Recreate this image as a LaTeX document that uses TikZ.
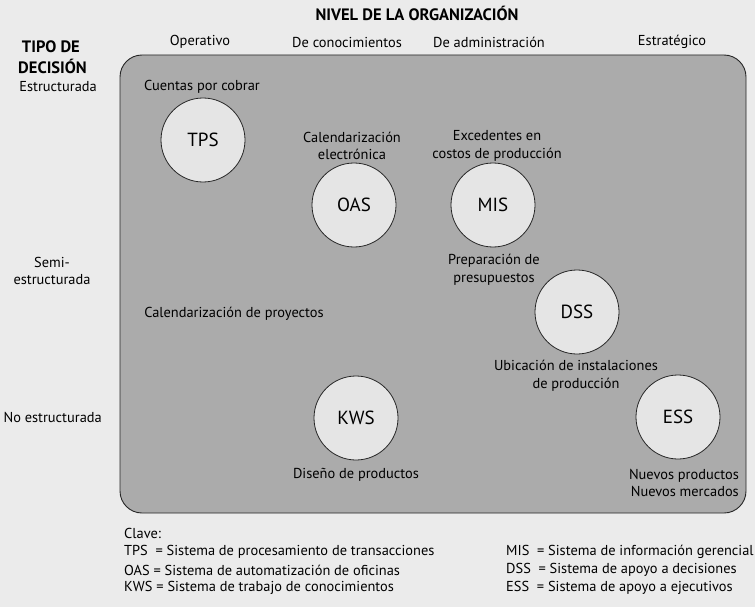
\documentclass[tikz,border=0pt]{standalone}
\usepackage{fontspec}
\setmainfont{PT Sans}
\tikzset{
  lbl/.style={font=\fontsize{14.4}{17.5}\selectfont, inner sep=0pt, align=center},
  hdr/.style={lbl, font=\fontsize{16.5}{18}\selectfont\bfseries},
  sys/.style={circle, draw=black!85, line width=0.8pt, fill=black!10,
    minimum size=84pt, inner sep=0pt, font=\fontsize{19}{22}\selectfont},
  panel/.style={draw=black!85, line width=0.9pt, fill=black!33, rounded corners=22pt},
}
\begin{document}
\begin{tikzpicture}[x=1pt, y=-1pt]
    \fill[black!8] (0,0) rectangle (755,607);
    \useasboundingbox (0,0) rectangle (755,607);
    % title and column heads
    \node[hdr] (title) at (417,13) {NIVEL DE LA ORGANIZACIÓN};
    \node[lbl] (op) at (200,42) {Operativo};
    \node[lbl] (con) at (347,42) {De conocimientos};
    \node[lbl] (adm) at (489,42) {De administración};
    \node[lbl] (est) at (672,42) {Estratégico};
    % row heads
    \node[hdr, anchor=east] (tipo) at (80,47) {TIPO DE};
    \node[hdr, anchor=east] (dec) at (87,66) {DECISIÓN};
    \node[lbl, anchor=east] (estr) at (97,87) {Estructurada};
    \node[lbl] (semi) at (52,271) {Semi-\\estructurada};
    \node[lbl, anchor=east] (noestr) at (102,417) {No estructurada};
    % panel
    \draw[panel] (120,55) rectangle (746,513);
    % systems
    \node[sys] (tps) at (203,140) {TPS};
    \node[sys] (oas) at (354,205) {OAS};
    \node[sys] (mis) at (493,205) {MIS};
    \node[sys] (dss) at (577,312) {DSS};
    \node[sys] (kws) at (356,418) {KWS};
    \node[sys] (ess) at (678,417) {ESS};
    % examples
    \node[lbl] (cxc) at (202,87) {Cuentas por cobrar};
    \node[lbl] (cal) at (352,146) {Calendarización\\electrónica};
    \node[lbl] (exc) at (497,146) {Excedentes en\\costos de producción};
    \node[lbl] (pre) at (494,270) {Preparación de\\presupuestos};
    \node[lbl] (proy) at (234,314) {Calendarización de proyectos};
    \node[lbl] (ubi) at (576,376) {Ubicación de instalaciones\\de producción};
    \node[lbl] (dis) at (356,475) {Diseño de productos};
    \node[lbl, align=right, anchor=east] (nue) at (739,483) {Nuevos productos\\Nuevos mercados};
    % key
    \node[lbl, anchor=west] (clave) at (124,533) {Clave:};
    \node[lbl, anchor=west] (ktps) at (124,552) {TPS \ = Sistema de procesamiento de transacciones};
    \node[lbl, anchor=west] (koas) at (124,570) {OAS = Sistema de automatización de oficinas};
    \node[lbl, anchor=west] (kkws) at (124,588) {KWS = Sistema de trabajo de conocimientos};
    \node[lbl, anchor=west] (kmis) at (506,552) {MIS \ = Sistema de información gerencial};
    \node[lbl, anchor=west] (kdss) at (506,570) {DSS \ = Sistema de apoyo a decisiones};
    \node[lbl, anchor=west] (kess) at (506,588) {ESS \ = Sistema de apoyo a ejecutivos};
\end{tikzpicture}
\end{document}
